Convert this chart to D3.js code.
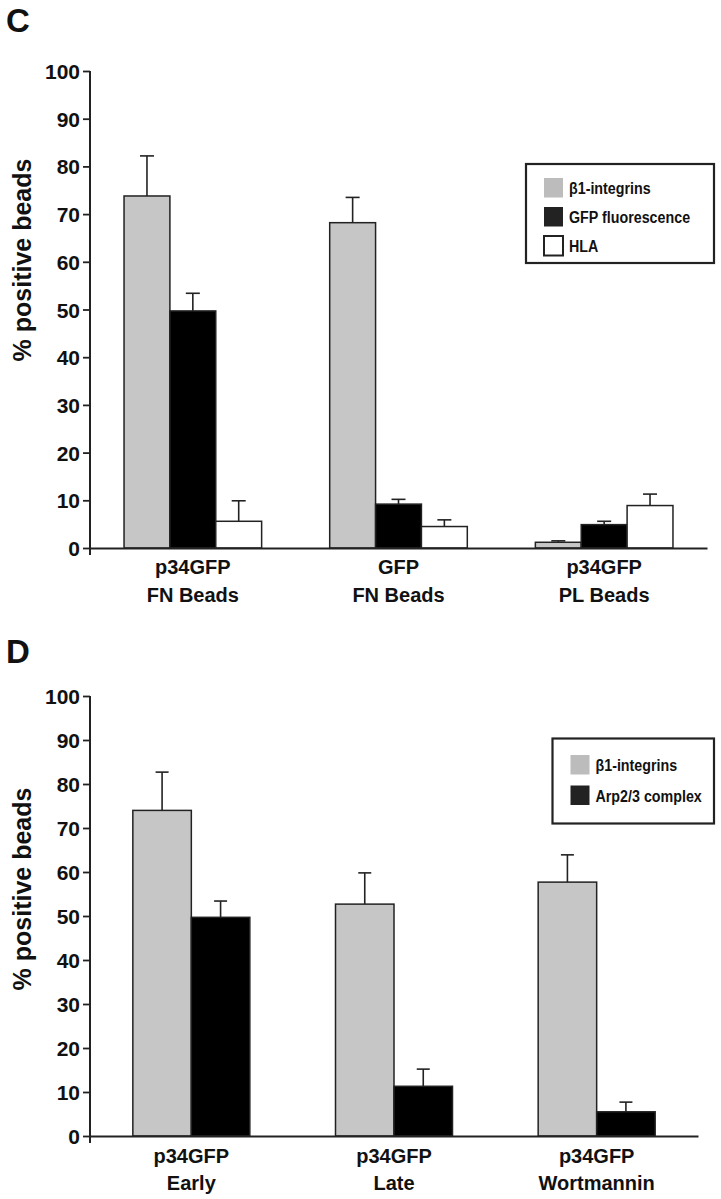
<!DOCTYPE html>
<html>
<head>
<meta charset="utf-8">
<script src="https://cdn.jsdelivr.net/npm/d3@7"></script>
<style>
  html, body { margin: 0; padding: 0; background: #fff; }
  svg { display: block; }
  text { font-family: "Liberation Sans", Arial, sans-serif; font-weight: bold; fill: #111; }
</style>
</head>
<body>
<svg id="chart" width="721" height="1199"></svg>
<script>
// ---------- Data ----------
const yTicks = [0, 10, 20, 30, 40, 50, 60, 70, 80, 90, 100];

// Panel C
const catsC = [["p34GFP", "FN Beads"], ["GFP", "FN Beads"], ["p34GFP", "PL Beads"]];
const seriesC = ["β1-integrins", "GFP fluorescence", "HLA"];
const integrinsC = [73.8, 68.2, 1.2];
const integrinsErrC = [82.2, 73.5, 1.5];
const gfpC = [49.7, 9.2, 4.9];
const gfpErrC = [53.4, 10.2, 5.6];
const hlaC = [5.6, 4.5, 8.9];
const hlaErrC = [9.9, 5.9, 11.3];

// Panel D
const catsD = [["p34GFP", "Early"], ["p34GFP", "Late"], ["p34GFP", "Wortmannin"]];
const seriesD = ["β1-integrins", "Arp2/3 complex"];
const integrinsD = [74.0, 52.7, 57.7];
const integrinsErrD = [82.7, 59.8, 63.9];
const arpD = [49.7, 11.3, 5.5];
const arpErrD = [53.4, 15.2, 7.7];

const seriesFill = ["#c6c6c6", "#000000", "#ffffff"];
const legendFill = ["#bcbcbc", "#222222", "#ffffff"];

const svg = d3.select("#chart");

function drawPanel(cfg) {
  const g = svg.append("g");
  const y = d3.scaleLinear().domain([0, 100]).range([cfg.y0, cfg.y100]);
  const cats = cfg.cats.map((c, i) => i);
  const x = d3.scaleBand().domain(cats).range([cfg.xLeft, cfg.xRight]).padding(0);
  const inner = d3.scaleBand().domain(cfg.series.map((s, i) => i))
    .range([-cfg.groupW / 2, cfg.groupW / 2]).padding(0);

  // Panel letter
  g.append("text").attr("x", 6).attr("y", cfg.letterY)
    .style("font-size", "33px").text(cfg.letter);

  // y-axis label
  g.append("text")
    .attr("transform", `translate(31,${cfg.labelY}) rotate(-90)`)
    .attr("text-anchor", "middle")
    .style("font-size", "25px")
    .text("% positive beads");

  // bars
  cfg.values.forEach((vals, si) => {
    vals.forEach((v, ci) => {
      const cx = x(ci) + x.bandwidth() / 2;
      const bx = cx + inner(si);
      const err = cfg.errs[si][ci];
      const mid = bx + inner.bandwidth() / 2;
      // error bar (upper only)
      g.append("line")
        .attr("x1", mid).attr("x2", mid)
        .attr("y1", y(v)).attr("y2", y(err))
        .attr("stroke", "#222").attr("stroke-width", 1.6);
      g.append("line")
        .attr("x1", mid - cfg.capW / 2).attr("x2", mid + cfg.capW / 2)
        .attr("y1", y(err)).attr("y2", y(err))
        .attr("stroke", "#222").attr("stroke-width", 1.6);
      g.append("rect")
        .attr("x", bx).attr("y", y(v))
        .attr("width", inner.bandwidth())
        .attr("height", y(0) - y(v))
        .attr("fill", seriesFill[si])
        .attr("stroke", "#222").attr("stroke-width", 1.5);
    });
  });

  // y axis
  const yAxis = d3.axisLeft(y).tickValues(yTicks).tickSize(7).tickPadding(3);
  const ya = g.append("g").attr("transform", `translate(${cfg.xLeft},0)`).call(yAxis);
  ya.select(".domain").remove();
  ya.selectAll(".tick line").attr("stroke", "#222").attr("stroke-width", 1.8);
  ya.selectAll(".tick text").style("font-size", "21px").attr("dy", "0.36em")
    .style("font-family", "'Liberation Sans', Arial, sans-serif").attr("fill", "#111");
  g.append("line").attr("x1", cfg.xLeft).attr("x2", cfg.xLeft)
    .attr("y1", cfg.y100).attr("y2", cfg.y0 + 7)
    .attr("stroke", "#222").attr("stroke-width", 2);

  // x axis
  const xAxis = d3.axisBottom(x).tickSize(0).tickFormat("");
  const xa = g.append("g").attr("transform", `translate(0,${cfg.y0})`).call(xAxis);
  xa.select(".domain").attr("stroke", "#222").attr("stroke-width", 2);

  // category labels
  cfg.cats.forEach((lines, ci) => {
    const cx = x(ci) + x.bandwidth() / 2;
    lines.forEach((ln, li) => {
      g.append("text").attr("x", cx).attr("y", cfg.catY + li * cfg.catGap)
        .attr("text-anchor", "middle").style("font-size", "20px").text(ln);
    });
  });

  // legend
  const L = cfg.legend;
  g.append("rect").attr("x", L.x).attr("y", L.y).attr("width", L.w).attr("height", L.h)
    .attr("fill", "#fff").attr("stroke", "#222").attr("stroke-width", 2.2);
  cfg.series.forEach((s, si) => {
    const sy = L.y + L.first + si * L.step;
    g.append("rect").attr("x", L.x + 18).attr("y", sy).attr("width", 19).attr("height", 19.5)
      .attr("fill", legendFill[si])
      .attr("stroke", si === 2 ? "#222" : "none").attr("stroke-width", si === 2 ? 2 : 0);
    g.append("text")
      .attr("transform", `translate(${L.x + 43},${sy + 16}) scale(0.84,1)`)
      .style("font-size", "17px").text(s);
  });
}

drawPanel({
  letter: "C", letterY: 32, labelY: 260,
  cats: catsC, series: seriesC,
  values: [integrinsC, gfpC, hlaC], errs: [integrinsErrC, gfpErrC, hlaErrC],
  xLeft: 90, xRight: 707, y0: 548, y100: 71, groupW: 137.6, capW: 14,
  catY: 574, catGap: 28,
  legend: { x: 526, y: 164, w: 188, h: 99, first: 14, step: 29 }
});

drawPanel({
  letter: "D", letterY: 663, labelY: 889,
  cats: catsD, series: seriesD,
  values: [integrinsD, arpD], errs: [integrinsErrD, arpErrD],
  xLeft: 90, xRight: 698, y0: 1136, y100: 696, groupW: 117, capW: 13,
  catY: 1163, catGap: 27,
  legend: { x: 552.5, y: 738.5, w: 161.5, h: 85, first: 16.5, step: 30.5 }
});
</script>
</body>
</html>
